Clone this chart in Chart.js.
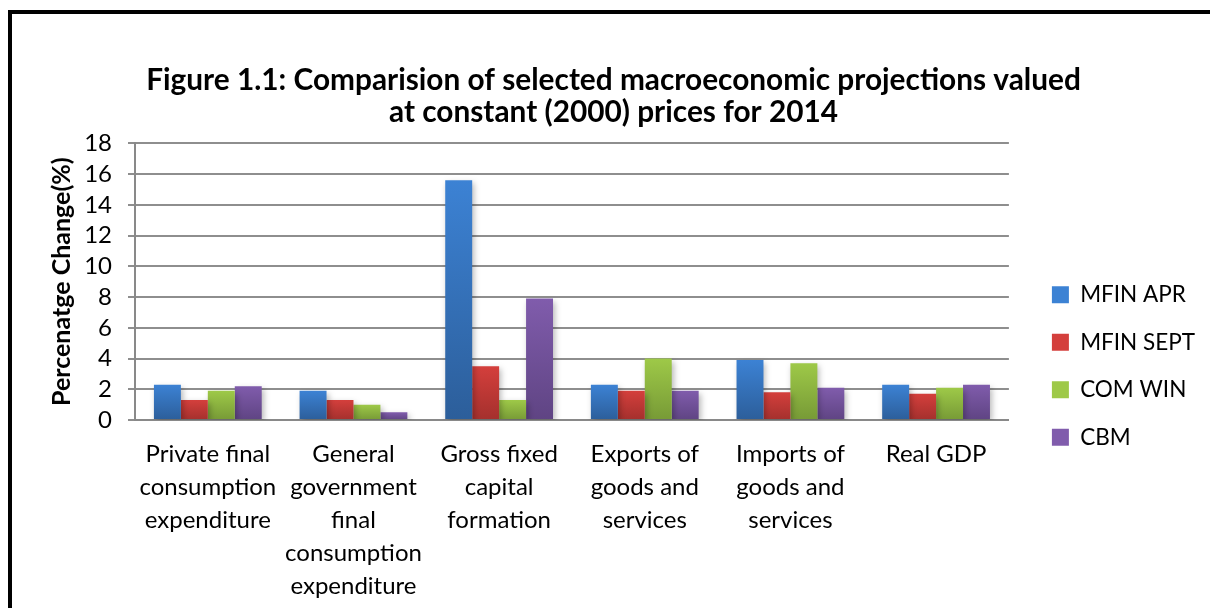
<!DOCTYPE html>
<html>
<head>
<meta charset="utf-8">
<script src="https://cdn.jsdelivr.net/npm/chart.js@4"></script>
<style>
  html, body { margin: 0; padding: 0; background: #fff; overflow: hidden; }
  .frame {
    position: absolute; left: 8px; top: 10px;
    width: 1240px; height: 640px;
    border: 4px solid #000; box-sizing: border-box;
  }
  .wrap { position: absolute; left: 0; top: 0; width: 1210px; height: 608px; }
</style>
</head>
<body>
<div class="frame"></div>
<div class="wrap"><canvas id="chart"></canvas></div>
<script>
// Data
const categories = [
  ["Private final", "consumption", "expenditure"],
  ["General", "government", "final", "consumption", "expenditure"],
  ["Gross fixed", "capital", "formation"],
  ["Exports of", "goods and", "services"],
  ["Imports of", "goods and", "services"],
  ["Real GDP"],
];
const seriesNames = ["MFIN APR", "MFIN SEPT", "COM WIN", "CBM"];
const mfinApr = [2.3, 1.9, 15.6, 2.3, 3.9, 2.3];
const mfinSept = [1.3, 1.3, 3.5, 1.9, 1.8, 1.7];
const comWin = [1.9, 1.0, 1.3, 4.0, 3.7, 2.1];
const cbm = [2.2, 0.5, 7.9, 1.9, 2.1, 2.3];
const yTicks = [0, 2, 4, 6, 8, 10, 12, 14, 16, 18];

const FONT = "Lato, 'Open Sans', sans-serif";

// top / bottom colours of each bar gradient
const barColors = [
  ["#3c82d4", "#2c5e9a"],
  ["#d43f3c", "#a4302d"],
  ["#9ec948", "#779a36"],
  ["#805cac", "#5f4483"],
];

function barGradient(ctx, idx) {
  const chart = ctx.chart;
  const [top, bottom] = barColors[idx];
  if (!chart.chartArea || ctx.type !== "data") return top;
  const y = chart.scales.y;
  const y0 = y.getPixelForValue(ctx.raw);
  const y1 = y.getPixelForValue(0);
  if (!isFinite(y0) || y1 - y0 < 1) return top;
  const g = chart.ctx.createLinearGradient(0, y0, 0, y1);
  g.addColorStop(0, top);
  g.addColorStop(1, bottom);
  return g;
}

const allSeries = [mfinApr, mfinSept, comWin, cbm];

// soft drop shadow under the bars
const barShadow = {
  id: "barShadow",
  beforeDatasetsDraw(chart) {
    const c = chart.ctx;
    c.save();
    c.shadowColor = "rgba(0,0,0,0.28)";
    c.shadowBlur = 6;
    c.shadowOffsetX = 2;
    c.shadowOffsetY = 3;
  },
  afterDatasetsDraw(chart) {
    chart.ctx.restore();
  },
};

// move the legend and title to where the original ones sit
const boxShift = {
  id: "boxShift",
  afterLayout(chart) {
    const lg = chart.legend;
    if (lg) {
      lg.top += 62;
      lg.bottom += 62;
      lg.left += 18;
      lg.right += 18;
    }
    const tb = chart.titleBlock;
    if (tb) {
      tb.left += 10;
      tb.right += 10;
    }
  },
};

new Chart(document.getElementById("chart"), {
  type: "bar",
  data: {
    labels: categories,
    datasets: seriesNames.map((name, i) => ({
      label: name,
      data: allSeries[i],
      backgroundColor: (ctx) => barGradient(ctx, i),
      borderWidth: 0,
      categoryPercentage: 0.74,
      barPercentage: 1.0,
    })),
  },
  options: {
    responsive: true,
    maintainAspectRatio: false,
    animation: false,
    layout: { padding: { left: 20, right: 23, top: 0, bottom: 0 } },
    plugins: {
      title: {
        display: true,
        text: [
          "Figure 1.1: Comparision of selected macroeconomic projections valued",
          "at constant (2000) prices for 2014",
        ],
        color: "#000",
        font: { family: FONT, size: 29.8, weight: "bold", lineHeight: 1.08 },
        padding: { top: 64, bottom: 15 },
      },
      legend: {
        display: true,
        position: "right",
        labels: {
          color: "#000",
          font: { family: FONT, size: 22.5 },
          boxWidth: 17,
          boxHeight: 17,
          padding: 25,
          generateLabels(chart) {
            return chart.data.datasets.map((ds, i) => ({
              text: ds.label,
              fillStyle: barColors[i][0],
              strokeStyle: barColors[i][0],
              lineWidth: 0,
              datasetIndex: i,
              hidden: false,
            }));
          },
        },
      },
      tooltip: { enabled: false },
    },
    scales: {
      x: {
        grid: { display: false },
        border: { color: "#898989", width: 2 },
        ticks: {
          color: "#000",
          font: { family: FONT, size: 24, lineHeight: 1.375 },
          padding: 10,
          maxRotation: 0,
          autoSkip: false,
        },
        afterFit(scale) { scale.height = 188; },
      },
      y: {
        min: 0,
        max: 18,
        afterBuildTicks(scale) {
          scale.ticks = yTicks.map((v) => ({ value: v }));
        },
        grid: {
          color: "#8e8e8e",
          lineWidth: 2,
          tickLength: 7,
          drawTicks: true,
        },
        border: { color: "#898989", width: 2 },
        ticks: {
          color: "#000",
          font: { family: FONT, size: 24 },
          padding: 16,
          autoSkip: false,
        },
        title: {
          display: true,
          text: "Percenatge Change(%)",
          color: "#000",
          font: { family: FONT, size: 25, weight: "bold", lineHeight: 1.2 },
          padding: { top: 27, bottom: 10 },
        },
        afterFit(scale) { scale.width = 115; },
      },
    },
  },
  plugins: [barShadow, boxShift],
});
</script>
</body>
</html>
